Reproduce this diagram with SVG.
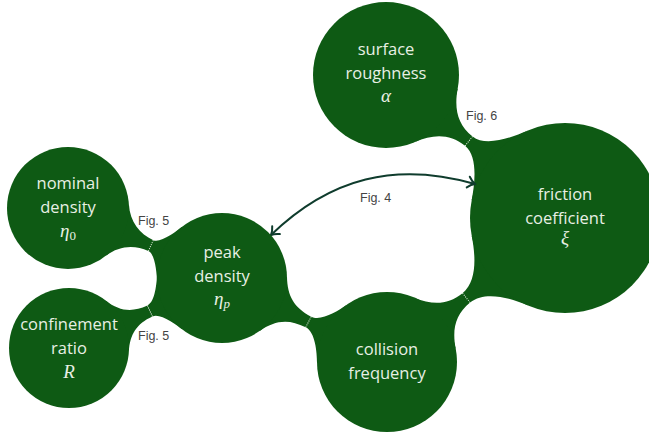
<svg xmlns="http://www.w3.org/2000/svg" width="649" height="437" viewBox="0 0 649 437">
  <style>
    .concept { fill: #0e5a14; }
    .bar { fill: #0e5a14; }
    .seam { stroke: #f2f7ef; stroke-width: 1; stroke-dasharray: 1 1.2; fill: none; }
    .label { font-family: "Open Sans", "DejaVu Sans", sans-serif; font-size: 16.5px; fill: #e8f0e4; text-anchor: middle; }
    .math { font-family: "Liberation Serif", "DejaVu Serif", serif; font-style: italic; font-size: 19px; fill: #e8f0e4; text-anchor: middle; }
    .sub { font-style: normal; font-size: 13px; }
    .subi { font-style: italic; font-size: 13px; }
    .fig { font-family: "Liberation Sans", Arial, sans-serif; font-size: 12.5px; fill: #444444; }
    .link { fill: none; stroke: #0f3c2d; stroke-width: 2; }
  </style>
  <defs>
    <marker id="tip" markerUnits="userSpaceOnUse" viewBox="-9 -7 11 14" refX="0" refY="0" markerWidth="11" markerHeight="14" orient="auto-start-reverse">
      <path d="M-7,-5.5 C-4,-2 -1.2,-0.5 0,0 C-1.2,0.5 -4,2 -7,5.5" fill="none" stroke="#0f3c2d" stroke-width="2" stroke-linecap="round"/>
    </marker>
  </defs>

  <!-- connection bars between concepts, with the colour seam in the middle -->
  <g id="connectors">
    <g transform="translate(68,208) rotate(24.44)">
      <path class="bar" d="M53.9,-28.6 C62.3,-12.7 76,-6 91,-6 C98.9,-6 108.1,-23.5 111.8,-30.5 L111.8,30.5 C108.1,23.5 98.9,6 91,6 C76,6 62.3,12.7 53.9,28.6 Z"/>
      <line class="seam" x1="91" y1="-6" x2="91" y2="6"/>
    </g>
    <g transform="translate(69,348) rotate(-24.59)">
      <path class="bar" d="M53,-28.1 C61.2,-12.7 71.6,-6 89,-6 C97.6,-6 106.9,-22.9 110.9,-30.5 L110.9,30.5 C106.9,22.9 97.6,6 89,6 C71.6,6 61.2,12.7 53,28.1 Z"/>
      <line class="seam" x1="89" y1="-6" x2="89" y2="6"/>
    </g>
    <g transform="translate(222,278) rotate(26.98)">
      <path class="bar" d="M57.4,-30.5 C66.4,-13.5 77.8,-6 97,-6 C107.9,-6 118.3,-23.2 123.4,-32.8 L123.4,32.8 C118.3,23.2 107.9,6 97,6 C77.8,6 66.4,13.5 57.4,30.5 Z"/>
      <line class="seam" x1="97" y1="-6" x2="97" y2="6"/>
    </g>
    <g transform="translate(386,75) rotate(38.62)">
      <path class="bar" d="M64.5,-34.2 C73.8,-16.7 86.2,-6 106,-6 C122.9,-6 137.3,-29.7 145.2,-44.6 L145.2,44.6 C137.3,29.7 122.9,6 106,6 C86.2,6 73.8,16.7 64.5,34.2 Z"/>
      <line class="seam" x1="106" y1="-6" x2="106" y2="6"/>
    </g>
    <g transform="translate(387,362) rotate(-38.97)">
      <path class="bar" d="M61.8,-32.8 C70.8,-15.9 82.8,-6 102,-6 C121.2,-6 136.1,-27.6 145.1,-44.6 L145.1,44.6 C136.1,27.6 121.2,6 102,6 C82.8,6 70.8,15.9 61.8,32.8 Z"/>
      <line class="seam" x1="102" y1="-6" x2="102" y2="6"/>
    </g>
    <!-- cross link between peak density and friction coefficient -->
    <path class="link" d="M271,235 C330.2,177.8 395.9,161.3 475,184" marker-start="url(#tip)" marker-end="url(#tip)"/>
    <text class="fig" x="138" y="225">Fig. 5</text>
    <text class="fig" x="138" y="340">Fig. 5</text>
    <text class="fig" x="466" y="120">Fig. 6</text>
    <text class="fig" x="360" y="202">Fig. 4</text>
  </g>

  <g id="nominal-density">
    <circle class="concept" cx="68" cy="208" r="61"/>
    <text class="label" x="68" y="189">nominal</text>
    <text class="label" x="68" y="213">density</text>
    <text class="math" x="68" y="237">η<tspan class="sub" dy="3">0</tspan></text>
  </g>

  <g id="confinement-ratio">
    <circle class="concept" cx="69" cy="348" r="60"/>
    <text class="label" x="69" y="330">confinement</text>
    <text class="label" x="69" y="354">ratio</text>
    <text class="math" x="69" y="378">R</text>
  </g>

  <g id="peak-density">
    <circle class="concept" cx="222" cy="278" r="65"/>
    <text class="label" x="222" y="258">peak</text>
    <text class="label" x="222" y="282">density</text>
    <text class="math" x="222" y="305">η<tspan class="subi" dy="3">p</tspan></text>
  </g>

  <g id="collision-frequency">
    <circle class="concept" cx="387" cy="362" r="70"/>
    <text class="label" x="387" y="355">collision</text>
    <text class="label" x="387" y="379">frequency</text>
  </g>

  <g id="surface-roughness">
    <circle class="concept" cx="386" cy="75" r="73"/>
    <text class="label" x="386" y="55">surface</text>
    <text class="label" x="386" y="79">roughness</text>
    <text class="math" x="386" y="102">α</text>
  </g>

  <g id="friction-coefficient">
    <circle class="concept" cx="565" cy="218" r="95"/>
    <text class="label" x="565" y="200">friction</text>
    <text class="label" x="565" y="224">coefficient</text>
    <text class="math" x="565" y="244">ξ</text>
  </g>
</svg>
